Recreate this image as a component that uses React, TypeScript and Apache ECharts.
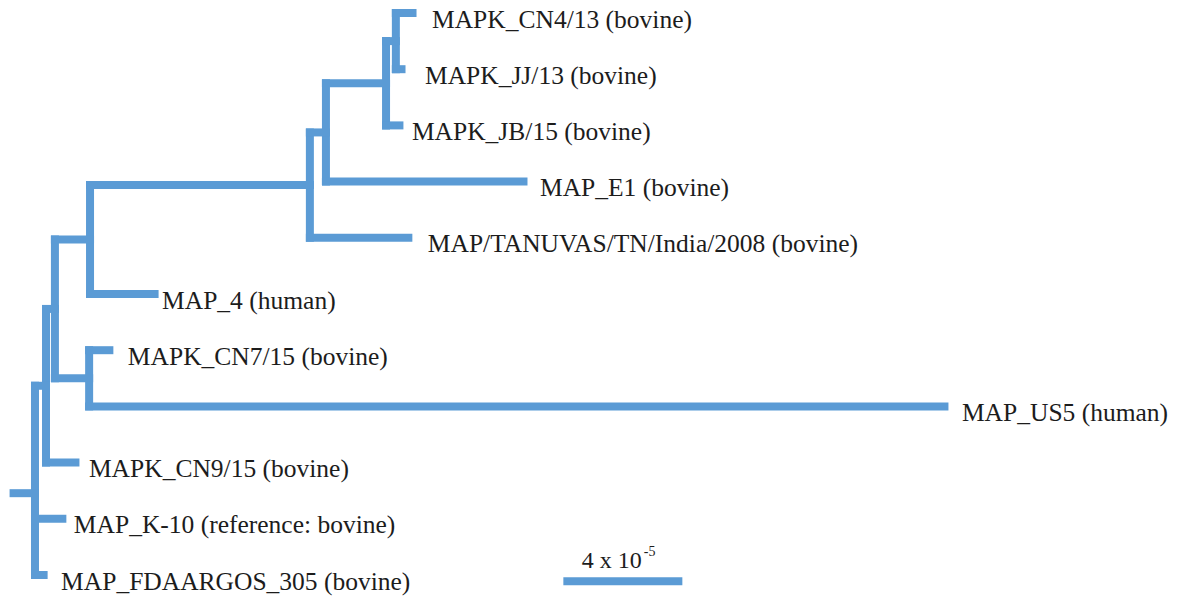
import React, { useEffect, useRef } from "react";
import * as echarts from "echarts";

// Leaves, top to bottom
const leafNames = [
  "MAPK_CN4/13 (bovine)",
  "MAPK_JJ/13 (bovine)",
  "MAPK_JB/15 (bovine)",
  "MAP_E1 (bovine)",
  "MAP/TANUVAS/TN/India/2008 (bovine)",
  "MAP_4 (human)",
  "MAPK_CN7/15 (bovine)",
  "MAP_US5 (human)",
  "MAPK_CN9/15 (bovine)",
  "MAP_K-10 (reference: bovine)",
  "MAP_FDAARGOS_305 (bovine)",
];
// cumulative distance from root stub, units of 1e-5 substitutions/site
const leafDepth = [13.53, 13.16, 13.09, 17.26, 13.39, 4.86, 3.34, 31.41, 2.2, 1.76, 1.13];

// internal nodes (children: "L#" = leaf index, otherwise node id)
const nodeIds = ["W", "V", "U", "T", "R", "S", "Q", "P", "root"];
const nodeDepth = [12.97, 12.64, 10.62, 10.08, 2.69, 2.66, 1.51, 1.21, 0.84];
const nodeChildren = [
  ["L0", "L1"],
  ["W", "L2"],
  ["V", "L3"],
  ["U", "L4"],
  ["T", "L5"],
  ["L6", "L7"],
  ["R", "S"],
  ["Q", "L8"],
  ["P", "L9", "L10"],
];
const rootStubStart = 0.12;

// scale bar: 4 x 10^-5
const scaleBarStart = 18.6;
const scaleBarLength = 4;

// label layout (px gap after branch tip)
const labelGap = [16, 20, 9, 13, 16, 4, 15, 14, 10, 8, 14];

const BLUE = "#5B9BD5";
const FAMILY = "Liberation Serif";

function buildLayout() {
  const pos: Record<string, { x: number; y: number }> = {};
  leafNames.forEach((_, i) => {
    pos["L" + i] = { x: leafDepth[i], y: i };
  });
  nodeIds.forEach((id, k) => {
    const ys = nodeChildren[k].map((c) => pos[c].y);
    pos[id] = { x: nodeDepth[k], y: ys.reduce((a, b) => a + b, 0) / ys.length };
  });
  const segs: number[][] = [];
  nodeIds.forEach((id, k) => {
    const p = pos[id];
    const ys = nodeChildren[k].map((c) => pos[c].y);
    segs.push([p.x, Math.min(...ys), p.x, Math.max(...ys)]);
    nodeChildren[k].forEach((c) => {
      segs.push([p.x, pos[c].y, pos[c].x, pos[c].y]);
    });
  });
  const r = pos["root"];
  segs.push([rootStubStart, r.y, r.x, r.y]);
  return segs;
}

export default function App() {
  const ref = useRef<HTMLDivElement>(null);
  useEffect(() => {
    if (!ref.current) return;
    const chart = echarts.init(ref.current, undefined, { renderer: "svg" });
    const segs = buildLayout();
    const labels = leafNames.map((n, i) => [leafDepth[i], i, labelGap[i], n]);
    chart.setOption({
      animation: false,
      backgroundColor: "#ffffff",
      grid: { left: 10, right: 37.5, top: 13, bottom: 21 },
      xAxis: { type: "value", min: 0, max: 38, show: false },
      yAxis: { type: "value", min: 0, max: 10, inverse: true, show: false },
      series: [
        {
          type: "custom",
          coordinateSystem: "cartesian2d",
          data: segs,
          silent: true,
          renderItem: (params: any, api: any) => {
            const a = api.coord([api.value(0), api.value(1)]);
            const b = api.coord([api.value(2), api.value(3)]);
            return {
              type: "line",
              shape: { x1: a[0], y1: a[1], x2: b[0], y2: b[1] },
              style: { stroke: BLUE, lineWidth: 8, lineCap: "square" },
            };
          },
        },
        {
          type: "custom",
          coordinateSystem: "cartesian2d",
          data: labels,
          silent: true,
          renderItem: (params: any, api: any) => {
            const i = params.dataIndex;
            const p = api.coord([labels[i][0], labels[i][1]]);
            return {
              type: "text",
              x: p[0] + 3.5 + (labels[i][2] as number),
              y: p[1] + 6,
              style: {
                text: labels[i][3],
                fontFamily: FAMILY,
                fontSize: 25.5,
                fill: "#1c1c1c",
                verticalAlign: "middle",
                align: "left",
              },
            };
          },
        },
        {
          type: "custom",
          coordinateSystem: "cartesian2d",
          data: [[scaleBarStart, scaleBarStart + scaleBarLength, 10.11]],
          silent: true,
          renderItem: (params: any, api: any) => {
            const a = api.coord([api.value(0), api.value(2)]);
            const b = api.coord([api.value(1), api.value(2)]);
            const cx = (a[0] + b[0]) / 2;
            return {
              type: "group",
              children: [
                {
                  type: "line",
                  shape: { x1: a[0], y1: a[1], x2: b[0], y2: b[1] },
                  style: { stroke: BLUE, lineWidth: 8, lineCap: "butt" },
                },
                {
                  type: "text",
                  x: cx + 19,
                  y: a[1] - 21,
                  style: {
                    text: "4 x 10",
                    fontFamily: FAMILY,
                    fontSize: 24,
                    fill: "#1c1c1c",
                    align: "right",
                    verticalAlign: "middle",
                  },
                },
                {
                  type: "text",
                  x: cx + 21,
                  y: a[1] - 30,
                  style: {
                    text: "-5",
                    fontFamily: FAMILY,
                    fontSize: 14,
                    fill: "#1c1c1c",
                    align: "left",
                    verticalAlign: "middle",
                  },
                },
              ],
            };
          },
        },
      ],
    });
    return () => chart.dispose();
  }, []);
  return (
    <div
      ref={ref}
      style={{ position: "fixed", left: 0, top: 0, width: 1178, height: 596, background: "#fff" }}
    />
  );
}
